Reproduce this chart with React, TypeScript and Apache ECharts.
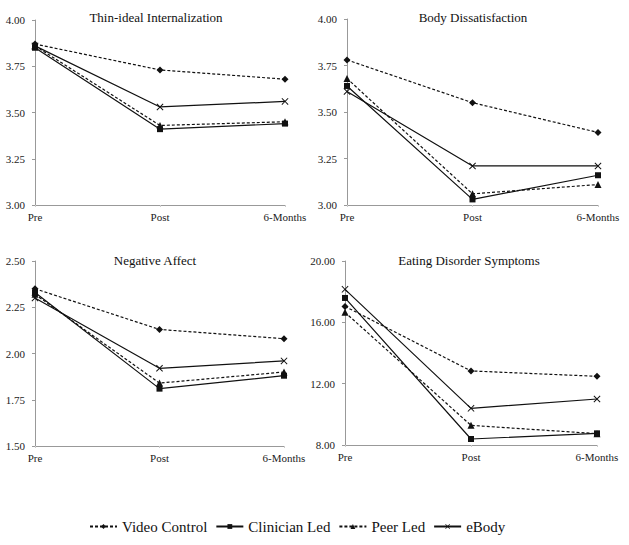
import React, { useEffect, useRef } from "react";
import * as echarts from "echarts";

const timepoints = ["Pre", "Post", "6-Months"];
const groupNames = ["Video Control", "Clinician Led", "Peer Led", "eBody"];
const panelTitles = [
  "Thin-ideal Internalization",
  "Body Dissatisfaction",
  "Negative Affect",
  "Eating Disorder Symptoms",
];

// values per panel, order: Video Control, Clinician Led, Peer Led, eBody
const thinIdeal = [
  [3.87, 3.73, 3.68],
  [3.85, 3.41, 3.44],
  [3.86, 3.43, 3.45],
  [3.86, 3.53, 3.56],
];
const bodyDissatisfaction = [
  [3.78, 3.55, 3.39],
  [3.64, 3.03, 3.16],
  [3.68, 3.06, 3.11],
  [3.61, 3.21, 3.21],
];
const negativeAffect = [
  [2.35, 2.13, 2.08],
  [2.33, 1.81, 1.88],
  [2.32, 1.84, 1.9],
  [2.3, 1.92, 1.96],
];
const eatingDisorder = [
  [17.04, 12.83, 12.48],
  [17.59, 8.39, 8.76],
  [16.65, 9.28, 8.74],
  [18.15, 10.39, 11.0],
];

const yMin = [3.0, 3.0, 1.5, 8.0];
const yMax = [4.0, 4.0, 2.5, 20.0];
const yStep = [0.25, 0.25, 0.25, 4.0];

const panelData = [thinIdeal, bodyDissatisfaction, negativeAffect, eatingDisorder];

const X_SYMBOL =
  "path://M0,1L1,0L5,4L9,0L10,1L6,5L10,9L9,10L5,6L1,10L0,9L4,5Z";

const FONT = "Liberation Serif";

export default function App() {
  const ref = useRef<HTMLDivElement>(null);

  useEffect(() => {
    if (!ref.current) return;
    const chart = echarts.init(ref.current, null, { renderer: "svg" });

    const grids = [
      { left: 35, top: 20, width: 250, height: 185 },
      { left: 347, top: 19, width: 251, height: 186 },
      { left: 35, top: 261, width: 249, height: 185 },
      { left: 345, top: 261, width: 252, height: 184 },
    ];
    const titlePos = [
      { left: 151, top: 6 },
      { left: 468, top: 6 },
      { left: 150, top: 249 },
      { left: 464, top: 249 },
    ];

    const styles = [
      { symbol: "diamond", size: 7, dash: [3, 2] as number[] | "solid" },
      { symbol: "rect", size: 6, dash: "solid" as number[] | "solid" },
      { symbol: "triangle", size: 7, dash: [3, 2] as number[] | "solid" },
      { symbol: X_SYMBOL, size: 7, dash: "solid" as number[] | "solid" },
    ];

    const series: any[] = [];
    panelData.forEach((panel, p) => {
      panel.forEach((vals, g) => {
        series.push({
          type: "line",
          name: groupNames[g],
          xAxisIndex: p,
          yAxisIndex: p,
          data: vals,
          symbol: styles[g].symbol,
          symbolSize: styles[g].size,
          showSymbol: true,
          lineStyle: { color: "#111", width: 1.2, type: styles[g].dash },
          itemStyle: { color: "#111" },
          emphasis: { disabled: true },
        });
      });
    });

    chart.setOption({
      animation: false,
      backgroundColor: "#fff",
      textStyle: { fontFamily: FONT },
      title: panelTitles.map((t, i) => ({
        text: t,
        left: titlePos[i].left,
        top: titlePos[i].top,
        textAlign: "center",
        textStyle: { fontFamily: FONT, fontSize: 13, fontWeight: "normal", color: "#111" },
      })),
      grid: grids,
      xAxis: grids.map((_, i) => ({
        type: "category",
        gridIndex: i,
        data: timepoints,
        boundaryGap: false,
        axisLine: { lineStyle: { color: "#999", width: 1 } },
        axisTick: { show: true, length: 2, alignWithLabel: true, lineStyle: { color: "#ccc" } },
        axisLabel: { fontFamily: FONT, fontSize: 11, color: "#222", margin: 6 },
        splitLine: { show: false },
      })),
      yAxis: grids.map((_, i) => ({
        type: "value",
        gridIndex: i,
        min: yMin[i],
        max: yMax[i],
        interval: yStep[i],
        axisLine: { show: true, lineStyle: { color: "#999", width: 1 } },
        axisTick: { show: true, length: 3, lineStyle: { color: "#999" } },
        axisLabel: {
          fontFamily: FONT,
          fontSize: 11,
          color: "#222",
          margin: 10,
          formatter: (v: number) => v.toFixed(2),
        },
        splitLine: { show: false },
      })),
      legend: {
        data: groupNames,
        left: 84,
        top: 514,
        itemWidth: 27,
        itemHeight: 6,
        itemGap: 8,
        textStyle: { fontFamily: FONT, fontSize: 15, color: "#111" },
      },
      series,
    });

    return () => chart.dispose();
  }, []);

  return (
    <div
      ref={ref}
      style={{ position: "absolute", left: 0, top: 0, width: 629, height: 545 }}
    />
  );
}
